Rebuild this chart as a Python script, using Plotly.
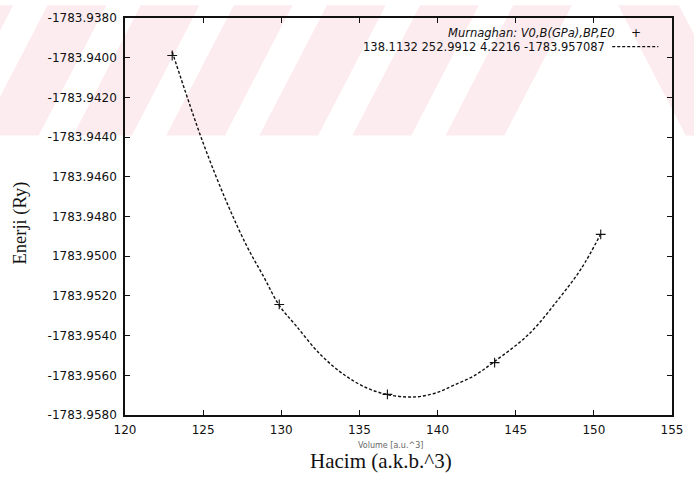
import plotly.graph_objects as go

# ---- data ----
volume_pts = [123.02, 129.87, 136.79, 143.65, 150.44]
energy_pts = [-1783.93989, -1783.95243, -1783.95696, -1783.95536, -1783.94890]

fit_volume = [123.02, 124.97, 126.54, 127.80, 128.87, 129.87, 130.94, 132.50, 134.09,
              135.50, 136.79, 138.00, 138.93, 140.00, 141.01, 142.30, 143.65, 145.85,
              147.74, 149.18, 150.44]
fit_energy = [-1783.93970, -1783.94423, -1783.94734, -1783.94950, -1783.95103, -1783.95248,
              -1783.95350, -1783.95495, -1783.95601, -1783.95665, -1783.95697, -1783.95709,
              -1783.95706, -1783.95686, -1783.95651, -1783.95604, -1783.95530, -1783.95392,
              -1783.95216, -1783.95064, -1783.94888]

x_ticks = [120, 125, 130, 135, 140, 145, 150, 155]
y_tickvals = [-1783.9380, -1783.9400, -1783.9420, -1783.9440, -1783.9460, -1783.9480,
              -1783.9500, -1783.9520, -1783.9540, -1783.9560, -1783.9580]
y_ticktext = ["-1783.9380", "-1783.9400", "-1783.9420", "-1783.9440", "1783.9460", "1783.9480",
              "1783.9500", "1783.9520", "-1783.9540", "-1783.9560", "-1783.9580"]

legend_line1 = "<i>Murnaghan: V0,B(GPa),BP,E0</i>"
legend_line2 = "138.1132 252.9912 4.2216 -1783.957087"

# ---- geometry ----
W, H = 694, 489
L, R, T, B = 125, 683, 13, 415
PW, PH = R - L, B - T


def px(x):
    return (x - L) / PW


def py(y):
    return (B - y) / PH


fig = go.Figure()
fig.add_trace(go.Scatter(x=fit_volume, y=fit_energy, mode="lines", line_shape="spline",
                         line=dict(color="#111111", width=1.4, dash="3px,2px"),
                         showlegend=False, hoverinfo="skip"))
fig.add_trace(go.Scatter(x=volume_pts, y=energy_pts, mode="markers",
                         marker=dict(symbol="cross-thin", size=7,
                                     line=dict(color="#111111", width=1.1)),
                         showlegend=False))

shapes = []
pink = "#fdecef"
SH = 69   # horizontal shift of a stripe over the band height
for s in [-49, 46, 141, 236, 331, 426, 521]:
    path = "M {} {} L {} {} L {} {} L {} {} Z".format(
        px(s), py(0), px(s + 60), py(0), px(s + 60 - SH), py(132), px(s - SH), py(132))
    shapes.append(dict(type="path", xref="paper", yref="paper", path=path,
                       fillcolor=pink, line=dict(width=0), layer="below"))
path = "M {} {} L {} {} L {} {} L {} {} Z".format(
    px(628), py(0), px(690), py(0), px(690 + SH), py(132), px(628 + SH), py(132))
shapes.append(dict(type="path", xref="paper", yref="paper", path=path,
                   fillcolor=pink, line=dict(width=0), layer="below"))
shapes.append(dict(type="line", xref="paper", yref="paper",
                   x0=px(622), x1=px(669), y0=py(42), y1=py(42),
                   line=dict(color="#111111", width=1.2, dash="3px,2px")))

font_tick = dict(family="DejaVu Sans", size=12, color="#111111")
annotations = [
    dict(text=legend_line1, x=px(626), y=py(28), xref="paper", yref="paper",
         xanchor="right", yanchor="middle", showarrow=False,
         font=dict(family="DejaVu Sans", size=11.5, color="#111111")),
    dict(text=legend_line2, x=px(617), y=py(42), xref="paper", yref="paper",
         xanchor="right", yanchor="middle", showarrow=False,
         font=dict(family="DejaVu Sans", size=11.5, color="#111111")),
    dict(text="+", x=px(646), y=py(28), xref="paper", yref="paper",
         xanchor="center", yanchor="middle", showarrow=False,
         font=dict(family="DejaVu Sans", size=12, color="#111111")),
    dict(text="Volume [a.u.^3]", x=px(396), y=py(446), xref="paper", yref="paper",
         xanchor="center", yanchor="middle", showarrow=False,
         font=dict(family="DejaVu Sans", size=8, color="#666666")),
    dict(text="Hacim (a.k.b.^3)", x=px(386), y=py(462), xref="paper", yref="paper",
         xanchor="center", yanchor="middle", showarrow=False,
         font=dict(family="Liberation Serif", size=21, color="#111111")),
    dict(text="Enerji (Ry)", x=px(18), y=py(221), xref="paper", yref="paper",
         xanchor="center", yanchor="middle", showarrow=False, textangle=-90,
         font=dict(family="Liberation Serif", size=18.5, color="#111111")),
]

fig.update_layout(
    width=W, height=H,
    margin=dict(l=L, r=W - R, t=T, b=H - B, pad=0),
    paper_bgcolor="white", plot_bgcolor="rgba(0,0,0,0)",
    shapes=shapes, annotations=annotations, showlegend=False,
)
fig.update_xaxes(range=[120, 155], tickvals=x_ticks, ticktext=[str(v) for v in x_ticks],
                 ticks="inside", ticklen=5, tickwidth=1, tickcolor="#111111",
                 showline=True, linecolor="#111111", linewidth=1.5, mirror="ticks",
                 showgrid=False, zeroline=False, tickfont=font_tick, ticklabelstandoff=3)
fig.update_yaxes(range=[-1783.9580, -1783.9380], tickvals=y_tickvals, ticktext=y_ticktext,
                 ticks="inside", ticklen=5, tickwidth=1, tickcolor="#111111",
                 showline=True, linecolor="#111111", linewidth=1.5, mirror="ticks",
                 showgrid=False, zeroline=False, tickfont=font_tick, ticklabelstandoff=4)

fig.write_html("out.html")
